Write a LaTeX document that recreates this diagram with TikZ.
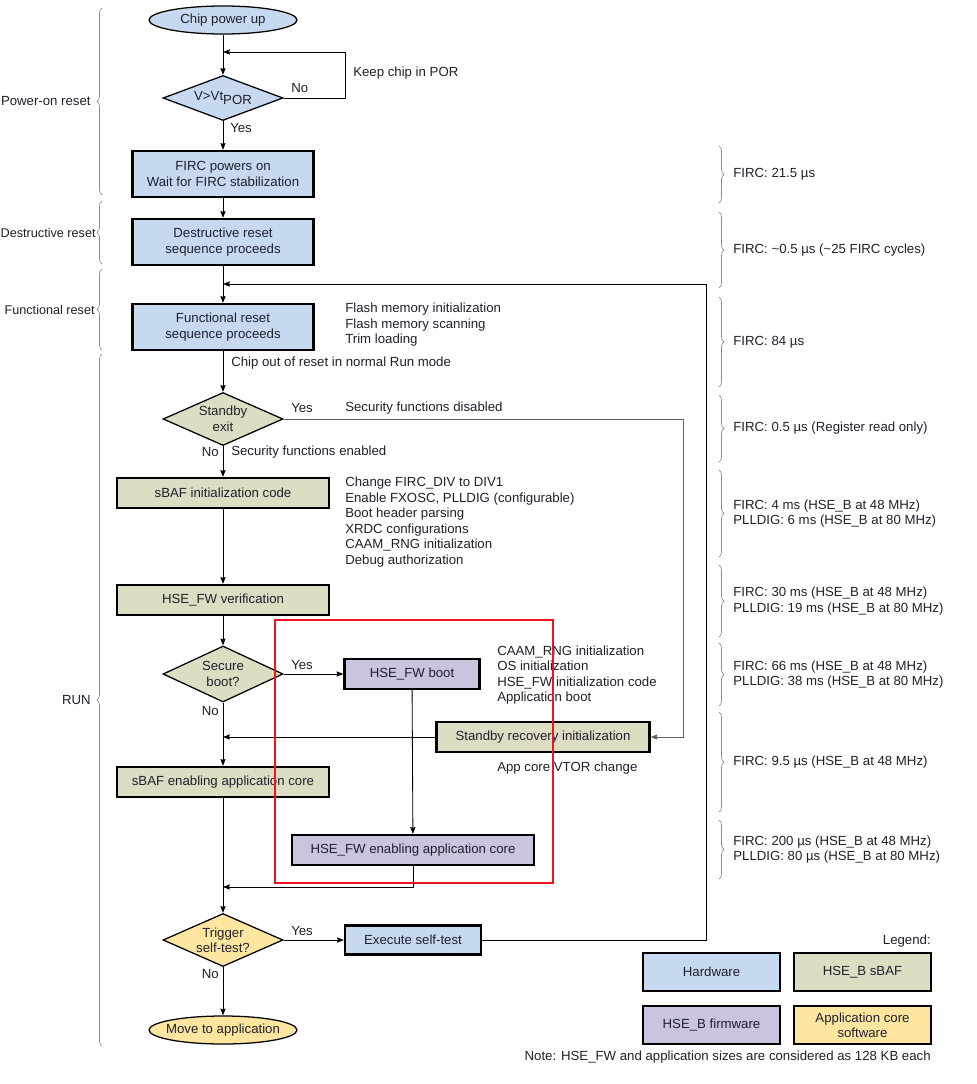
\documentclass[tikz,border=0pt]{standalone}
\usepackage{fontspec}
\setmainfont{Liberation Sans}
\usetikzlibrary{arrows.meta,shapes.geometric,decorations.pathreplacing}
\newlength{\unitpx}
\setlength{\unitpx}{0.025cm}
\newcommand{\btfont}{\fontsize{9.4}{11}\selectfont}
\definecolor{btblue}{HTML}{C6D9F1}
\definecolor{btkhaki}{HTML}{DDDDC3}
\definecolor{btpurple}{HTML}{CCC3DE}
\definecolor{btyellow}{HTML}{FFE6A0}
\definecolor{btgray}{HTML}{8C8C8C}
\definecolor{btline}{HTML}{606060}
\definecolor{btred}{HTML}{F0141E}
\definecolor{bttext}{HTML}{20202E}
\tikzset{
  bttxt/.style={font=\btfont, text=bttext, align=center},
  btbox/.style={draw=black, line width=1.6pt, bttxt, inner sep=2pt},
  btdec/.style={diamond, draw=black, line width=0.9pt, inner sep=0pt,
                minimum width=120\unitpx, minimum height=53\unitpx},
  btend/.style={ellipse, draw=black, line width=0.9pt, inner sep=0pt,
                minimum width=148\unitpx, minimum height=28\unitpx},
  btarrow/.style={-{Stealth[length=1.7mm, width=1.3mm, inset=0.2mm]}, line width=0.6pt, draw=black},
  btnote/.style={bttxt, align=left, inner sep=0pt},
  btbrace/.style={decorate, decoration={brace, amplitude=5\unitpx}, draw=btgray, line width=0.5pt},
}
\begin{document}
\begin{tikzpicture}[x=\unitpx, y=-\unitpx,
    tall/.style={btbox, fill=btblue, minimum width=181\unitpx, minimum height=46\unitpx},
    wide/.style={btbox, fill=btkhaki, minimum width=212\unitpx, minimum height=30\unitpx},
    fw/.style={btbox, fill=btpurple, minimum height=30\unitpx},
    leg/.style={btbox, minimum width=137\unitpx, minimum height=38\unitpx, inner sep=1pt},
    tleft/.style={btnote, midway, anchor=east, xshift=-11\unitpx},
    tright/.style={btnote, midway, anchor=west, xshift=14\unitpx}
  ]
  \useasboundingbox (0,0) rectangle (976,1084);
  % main column
  \node[btend, fill=btblue, label={[bttxt]center:Chip power up}] (pwrup) at (223,20) {};
  \node[btdec, fill=btblue, minimum height=45\unitpx, label={[bttxt]center:V>Vt\raisebox{-0.45ex}{POR}}] (vtpor) at (223,98) {};
  \node[tall] (firc) at (223,174) {FIRC powers on\\Wait for FIRC stabilization};
  \node[tall] (dreset) at (223,242) {Destructive reset\\sequence proceeds};
  \node[tall] (freset) at (223,327) {Functional reset\\sequence proceeds};
  \node[btdec, fill=btkhaki, label={[bttxt]center:Standby\\exit}] (stbyexit) at (223,419) {};
  \node[wide] (sbafinit) at (223,493) {sBAF initialization code};
  \node[wide] (hseverif) at (223,600) {HSE\_FW verification};
  \node[btdec, fill=btkhaki, minimum height=56\unitpx, label={[bttxt]center:Secure\\boot?}] (secboot) at (223,674) {};
  \node[fw, minimum width=135\unitpx] (hseboot) at (412,674) {HSE\_FW boot};
  \node[wide, minimum width=213\unitpx] (stbyrec) at (543,737) {Standby recovery initialization};
  \node[wide] (sbafen) at (223,782) {sBAF enabling application core};
  \node[fw, minimum width=242\unitpx] (hseen) at (413,850) {HSE\_FW enabling application core};
  \node[btdec, fill=btyellow, label={[bttxt]center:Trigger\\self-test?}] (trigger) at (223,940) {};
  \node[btbox, fill=btblue, minimum width=136\unitpx, minimum height=29\unitpx] (selftest) at (413,940) {Execute self-test};
  \node[btend, fill=btyellow, label={[bttxt]center:Move to application}] (moveapp) at (223,1030) {};
  % bend points
  \coordinate (porin) at (223,52);
  \coordinate (porcorner) at (345,52);
  \coordinate (fresin) at (223,284);
  \coordinate (loopcorner) at (706,284);
  \coordinate (stbycorner) at (683,737);
  \coordinate (stbyin) at (223,737);
  \coordinate (hsein) at (223,887);
  % connectors
  \draw[btarrow] (pwrup) -- (vtpor);
  \draw[btarrow] (vtpor.east) -| (porcorner) -- (porin);
  \draw[btarrow] (vtpor) -- (firc);
  \draw[btarrow] (firc) -- (dreset);
  \draw[btarrow] (dreset) -- (freset);
  \draw[btarrow] (freset) -- (stbyexit);
  \draw[btarrow] (stbyexit) -- (sbafinit);
  \draw[btarrow] (sbafinit) -- (hseverif);
  \draw[btarrow] (hseverif) -- (secboot);
  \draw[btarrow] (secboot) -- (hseboot);
  \draw[btarrow] (secboot) -- (sbafen);
  \draw[btarrow, draw=btline] (stbyexit.east) -| (stbycorner) -- (stbyrec.east);
  \draw[btarrow] (stbyrec.west) -- (stbyin);
  \draw[btarrow] (hseboot) -- (hseen);
  \draw[btarrow] (hseen.south) |- (hsein);
  \draw[btarrow] (sbafen) -- (trigger);
  \draw[btarrow] (trigger) -- (selftest);
  \draw[btarrow] (trigger) -- (moveapp);
  \draw[btarrow] (selftest.east) -| (loopcorner) -- (fresin);
  % connector labels
  \node[btnote, anchor=west] at (291,88) {No};
  \node[btnote, anchor=west] at (353,73) {Keep chip in POR};
  \node[btnote, anchor=west] at (230,128) {Yes};
  \node[btnote, anchor=west] (fresnote) at (345,325) {Flash memory initialization\\Flash memory scanning\\Trim loading};
  \node[btnote, anchor=west] at (231,363) {Chip out of reset in normal Run mode};
  \node[btnote, anchor=west] at (291,408) {Yes};
  \node[btnote, anchor=west] at (345,408) {Security functions disabled};
  \node[btnote, anchor=east] at (219,452) {No};
  \node[btnote, anchor=west] at (231,452) {Security functions enabled};
  \node[btnote, anchor=west] (sbafnote) at (345,522) {Change FIRC\_DIV to DIV1\\Enable FXOSC, PLLDIG (configurable)\\Boot header parsing\\XRDC configurations\\CAAM\_RNG initialization\\Debug authorization};
  \node[btnote, anchor=west] at (291,665) {Yes};
  \node[btnote, anchor=east] at (219,711) {No};
  \node[btnote, anchor=west] (hsenote) at (497,675) {CAAM\_RNG initialization\\OS initialization\\HSE\_FW initialization code\\Application boot};
  \node[btnote, anchor=west] at (497,768) {App core VTOR change};
  \node[btnote, anchor=west] at (291,931) {Yes};
  \node[btnote, anchor=east] at (219,974) {No};
  % highlighted area
  \draw[btred, line width=2pt] (275,620) rectangle (553,883);
  % phases
  \draw[btbrace] (102,195) -- (102,8) node[tleft] {Power-on reset};
  \draw[btbrace] (102,264) -- (102,201) node[tleft, xshift=5\unitpx, font=\fontsize{9}{11}\selectfont] {Destructive reset};
  \draw[btbrace] (102,350) -- (102,269) node[tleft, xshift=4\unitpx, font=\fontsize{9}{11}\selectfont] {Functional reset};
  \draw[btbrace] (102,1046) -- (102,354) node[tleft] {RUN};
  % timings
  \draw[btbrace] (719,146) -- (719,203) node[tright] {FIRC: 21.5 µs};
  \draw[btbrace] (719,212) -- (719,288) node[tright] {FIRC: \textasciitilde0.5 µs (\textasciitilde25 FIRC cycles)};
  \draw[btbrace] (719,297) -- (719,387) node[tright] {FIRC: 84 µs};
  \draw[btbrace] (719,395) -- (719,462) node[tright] {FIRC: 0.5 µs (Register read only)};
  \draw[btbrace] (719,470) -- (719,557) node[tright] {FIRC: 4 ms (HSE\_B at 48 MHz)\\PLLDIG: 6 ms (HSE\_B at 80 MHz)};
  \draw[btbrace] (719,565) -- (719,637) node[tright] {FIRC: 30 ms (HSE\_B at 48 MHz)\\PLLDIG: 19 ms (HSE\_B at 80 MHz)};
  \draw[btbrace] (719,643) -- (719,706) node[tright] {FIRC: 66 ms (HSE\_B at 48 MHz)\\PLLDIG: 38 ms (HSE\_B at 80 MHz)};
  \draw[btbrace] (719,712) -- (719,812) node[tright] {FIRC: 9.5 µs (HSE\_B at 48 MHz)};
  \draw[btbrace] (719,820) -- (719,879) node[tright] {FIRC: 200 µs (HSE\_B at 48 MHz)\\PLLDIG: 80 µs (HSE\_B at 80 MHz)};
  % legend
  \node[btnote, anchor=east] (legtitle) at (931,941) {Legend:};
  \node[leg, fill=btblue] (leghw) at (711.5,972) {Hardware};
  \node[leg, fill=btkhaki] (legsbaf) at (862.5,972) {HSE\_B sBAF};
  \node[leg, fill=btpurple] (legfw) at (711.5,1025) {HSE\_B firmware};
  \node[leg, fill=btyellow] (legapp) at (862.5,1025) {Application core\\software};
  \node[btnote, anchor=east] (note) at (931,1057) {Note: HSE\_FW and application sizes are considered as 128 KB each};
\end{tikzpicture}
\end{document}
